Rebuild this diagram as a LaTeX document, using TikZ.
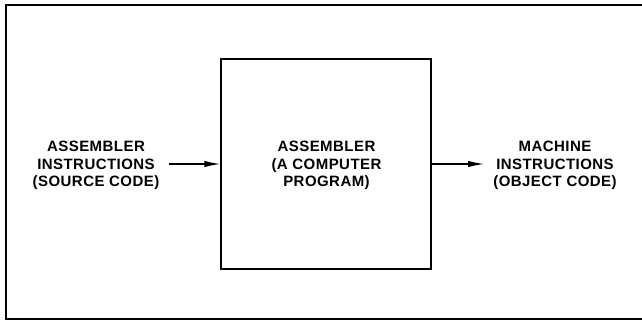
\documentclass[tikz,border=0pt]{standalone}
\usepackage{fontspec}
\setmainfont{Liberation Sans}[LetterSpace=3]
\usetikzlibrary{arrows.meta}
\tikzset{
  lbl/.style={align=center, font=\fontsize{15}{17.5}\selectfont\bfseries, inner sep=0pt},
  box/.style={draw, line width=1.4pt, minimum width=210pt, minimum height=210pt, inner sep=0pt},
  conn/.style={line width=1.3pt, -{Latex[length=16pt,width=6.5pt]}}
}
\begin{document}
\begin{tikzpicture}[x=1pt,y=-1pt]
\useasboundingbox (0,0) rectangle (642,320);
\begin{scope}
\clip (0,0) rectangle (642,320);
\draw[line width=2pt] (5.5,319.5) |- (650,5);
\draw[line width=2pt] (5.5,319) -- (650,319);
\end{scope}
\node[box] (asm) at (326,164) {};
\node[lbl] (asmtxt) at (326.5,165.5) {ASSEMBLER\\(A COMPUTER\\PROGRAM)};
\node[lbl] (src) at (96,165.5) {ASSEMBLER\\INSTRUCTIONS\\(SOURCE CODE)};
\node[lbl] (obj) at (555,165.5) {MACHINE\\INSTRUCTIONS\\(OBJECT CODE)};
\coordinate (a1) at (169,164);
\coordinate (a2) at (484,164);
\draw[conn] (a1) -- (asm.west);
\draw[conn] (asm.east) -- (a2);
\end{tikzpicture}
\end{document}
